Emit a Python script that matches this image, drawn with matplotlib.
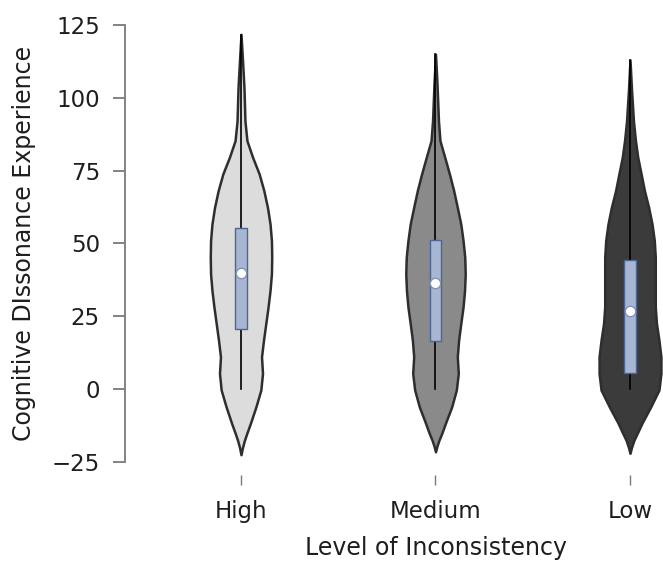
import matplotlib
matplotlib.use('Agg')
import matplotlib.pyplot as plt
import numpy as np

# --- Data ---
categories = ['High', 'Medium', 'Low']
fill_colors = ['#dcdcdc', '#8a8a8a', '#3b3b3b']

# box plot summaries
q1 = [20.5, 16.5, 5.7]
q3 = [55.2, 51.3, 44.3]
whisker_low = [0.0, 0.0, 0.0]
whisker_high = [121.5, 115.0, 113.0]
centre_dot = [39.8, 36.6, 27.0]

# violin outlines: score level and density (arbitrary units, read as half-width)
high_y = [121.8, 113, 103.5, 92, 85.3, 79.6, 73.9, 68.2, 62.4, 56.7, 51, 45.3, 39.6, 33.9,
          28.2, 22.5, 16.8, 11.1, 5.4, -0.3, -6.1, -11.7, -15, -17.5, -20, -22.5]
high_d = [0, 1.5, 3, 4, 6, 11.7, 18.3, 23, 26.7, 29.3, 30.7, 31, 30.7, 29.3,
          27.3, 25, 22.7, 20.7, 21.7, 20, 15, 9.5, 6, 3.5, 1.5, 0]
med_y = [115, 105, 92, 85.3, 79.6, 73.9, 68.2, 62.4, 56.7, 51, 45.3, 39.6, 33.9,
         28.2, 22.5, 16.8, 11.1, 5.4, -0.3, -6.1, -11.7, -15, -17.5, -19.5, -21.5]
med_d = [0, 1.5, 3, 4.5, 9.3, 14, 18.3, 22, 25.5, 27.8, 29.5, 30, 29.3,
         27.8, 25.5, 23.3, 22, 23, 21, 16.3, 10, 6.5, 3.5, 1.5, 0]
low_y = [113, 103, 92, 85.3, 79.6, 73.9, 68.2, 62.4, 56.7, 51, 45.3, 39.6, 33.9,
         28.2, 22.5, 16.8, 11.1, 5.4, -0.3, -6.1, -11.7, -15, -17.5, -20, -22]
low_d = [0, 1.5, 3.5, 5.5, 7.8, 11.2, 14.5, 18.8, 22.2, 24.5, 25.5, 25.5, 25.5,
         25.5, 26.7, 29.2, 31.2, 31.2, 29.2, 20.8, 12, 7.5, 4, 1.5, 0]

violins = [(high_y, high_d), (med_y, med_d), (low_y, low_d)]

VIOLIN_HALF = 0.159   # widest half-width, in category units
BOX_HALF = 0.029
FONT_SIZE = 16.5
TEXT_COLOR = '#1e1e1e'
AXIS_GRAY = '#7a7a7a'

fig = plt.figure(figsize=(6.63, 5.65), dpi=100)
ax = fig.add_axes([125 / 663, 103 / 565, 538 / 663, 437 / 565])

d_max = max(max(d) for _, d in violins)
for i, (vy, vd) in enumerate(violins):
    x0 = i + 1
    half = np.array(vd) / d_max * VIOLIN_HALF
    ax.fill_betweenx(vy, x0 - half, x0 + half, facecolor=fill_colors[i],
                     edgecolor='#2e2e2e', linewidth=1.8, zorder=2)
    # whisker
    ax.plot([x0, x0], [whisker_low[i], whisker_high[i]], color='black',
            linewidth=1.2, zorder=3)
    # box
    ax.add_patch(plt.Rectangle((x0 - BOX_HALF, q1[i]), 2 * BOX_HALF, q3[i] - q1[i],
                               facecolor='#a7b6d3', edgecolor='#4d6590',
                               linewidth=1.0, zorder=4))
    ax.plot(x0, centre_dot[i], 'o', markersize=7.5, markerfacecolor='white',
            markeredgecolor='#8194b8', markeredgewidth=1.0, zorder=5)

ax.set_xlim(1 - 116 / 194.5, 3 + 33 / 194.5)
ax.set_ylim(-25, 125)
ax.set_yticks([-25, 0, 25, 50, 75, 100, 125])
ax.set_xticks([1, 2, 3])
ax.set_xticklabels(categories)

for side in ['top', 'right']:
    ax.spines[side].set_visible(False)
ax.spines['bottom'].set_position(('outward', 9.5))
ax.spines['bottom'].set_color('none')
ax.spines['left'].set_color(AXIS_GRAY)
ax.spines['left'].set_linewidth(1.3)
ax.spines['left'].set_bounds(-25, 125)

ax.tick_params(axis='y', direction='out', length=9, width=1.3, color=AXIS_GRAY,
               labelsize=FONT_SIZE, pad=9, labelcolor=TEXT_COLOR)
ax.tick_params(axis='x', direction='out', length=7.2, width=1.0, color=AXIS_GRAY,
               labelsize=FONT_SIZE, pad=10.5, labelcolor=TEXT_COLOR)

ax.set_xlabel('Level of Inconsistency', fontsize=FONT_SIZE + 0.5, color=TEXT_COLOR)
ax.xaxis.set_label_coords((436 - 125) / 538, -(536 - 462) / 437)
ax.set_ylabel('Cognitive DIssonance Experience', fontsize=FONT_SIZE + 0.5,
              color=TEXT_COLOR, labelpad=11)

fig.savefig('out.png', dpi=100)
